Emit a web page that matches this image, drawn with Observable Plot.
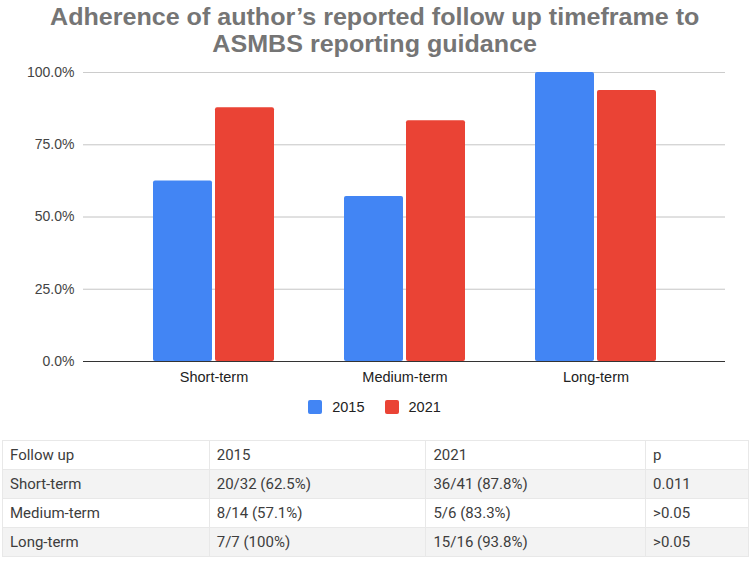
<!DOCTYPE html>
<html>
<head>
<meta charset="utf-8">
<script src="https://cdn.jsdelivr.net/npm/d3@7"></script>
<script src="https://cdn.jsdelivr.net/npm/@observablehq/plot@0.6"></script>
<style>
  html, body { margin: 0; padding: 0; background: #fff; }
  body { width: 749px; height: 562px; overflow: hidden; position: relative; font-family: "Liberation Sans", Arial, sans-serif; }
  #title { position: absolute; left: 0; top: 3px; width: 749px; text-align: center; }
  #title div { display: inline-block; font-weight: bold; font-size: 24px; line-height: 27px; color: #757575; transform: scaleX(1.045); transform-origin: center; white-space: nowrap; }
  #chart { position: absolute; left: 0; top: 60px; }
  #legend { position: absolute; top: 399px; left: 0; width: 749px; display: flex; justify-content: center; gap: 20px; font-size: 14.5px; color: #222; }
  #legend .item { display: flex; align-items: center; gap: 10px; }
  #legend .sw { width: 14px; height: 14px; border-radius: 2px; }
  #tbl { position: absolute; left: 2px; top: 440px; border-collapse: collapse; width: 747px; font-family: Roboto, sans-serif; font-size: 15px; color: #3d3d3d; }
  #tbl td { height: 29px; padding: 0 0 0 7px; border: 1px solid #e8e8e8; box-sizing: border-box; }
  #tbl tr.g td { background: #f3f3f3; }
</style>
</head>
<body>
<div id="title"><div>Adherence of author’s reported follow up timeframe to<br>ASMBS reporting guidance</div></div>
<div id="chart"></div>
<div id="legend"></div>
<table id="tbl"></table>
<script>
const categories = ["Short-term", "Medium-term", "Long-term"];
const years = ["2015", "2021"];
const values2015 = [0.625, 0.571, 1.0];
const values2021 = [0.878, 0.833, 0.938];
const yTicks = [0, 0.25, 0.5, 0.75, 1.0];
const colors = ["#4285F4", "#EA4335"];

const tableHeader = ["Follow up", "2015", "2021", "p"];
const tableRows = [
  ["Short-term", "20/32 (62.5%)", "36/41 (87.8%)", "0.011"],
  ["Medium-term", "8/14 (57.1%)", "5/6 (83.3%)", ">0.05"],
  ["Long-term", "7/7 (100%)", "15/16 (93.8%)", ">0.05"]
];
const colWidths = [207, 217, 220, 103];

const data = [];
categories.forEach((c, i) => {
  data.push({category: c, year: "2015", value: values2015[i]});
  data.push({category: c, year: "2021", value: values2021[i]});
});

const plot = Plot.plot({
  width: 749,
  height: 330,
  marginLeft: 83,
  marginRight: 24,
  marginTop: 12,
  marginBottom: 29,
  style: {fontFamily: "Liberation Sans, Arial, sans-serif", fontSize: "14px", color: "#444", background: "#fff"},
  x: {domain: categories, insetLeft: 33, insetRight: 33, paddingInner: 0.6927, paddingOuter: 0.3464, label: null, tickSize: 0, tickPadding: 10},
  y: {domain: [0, 1], ticks: yTicks, tickFormat: d3.format(".1%"), grid: true, label: null, tickSize: 0, tickPadding: 9},
  color: {domain: years, range: colors},
  marks: [
    Plot.gridY(yTicks, {stroke: "#cccccc", strokeOpacity: 1}),
    Plot.barY(data.filter(d => d.year === "2015"), {x: "category", y: "value", fill: "year", dx: -31, rx: 2}),
    Plot.barY(data.filter(d => d.year === "2021"), {x: "category", y: "value", fill: "year", dx: 31, rx: 2}),
    Plot.ruleY([0], {stroke: "#333", strokeWidth: 1.2}),
    Plot.axisX({tickSize: 0, tickPadding: 10, fill: "#222", fontSize: 14.5}),
    Plot.axisY({ticks: yTicks, tickFormat: d3.format(".1%"), tickSize: 0, tickPadding: 9, fill: "#444", fontSize: 14})
  ]
});
document.getElementById("chart").appendChild(plot);

const legend = document.getElementById("legend");
years.forEach((y, i) => {
  const item = document.createElement("div");
  item.className = "item";
  item.innerHTML = `<span class="sw" style="background:${colors[i]}"></span><span>${y}</span>`;
  legend.appendChild(item);
});

const tbl = document.getElementById("tbl");
const cg = document.createElement("colgroup");
colWidths.forEach(w => { const c = document.createElement("col"); c.style.width = w + "px"; cg.appendChild(c); });
tbl.appendChild(cg);
[tableHeader, ...tableRows].forEach((r, i) => {
  const tr = document.createElement("tr");
  if (i % 2 === 1) tr.className = "g";
  r.forEach(v => { const td = document.createElement("td"); td.textContent = v; tr.appendChild(td); });
  tbl.appendChild(tr);
});
</script>
</body>
</html>
